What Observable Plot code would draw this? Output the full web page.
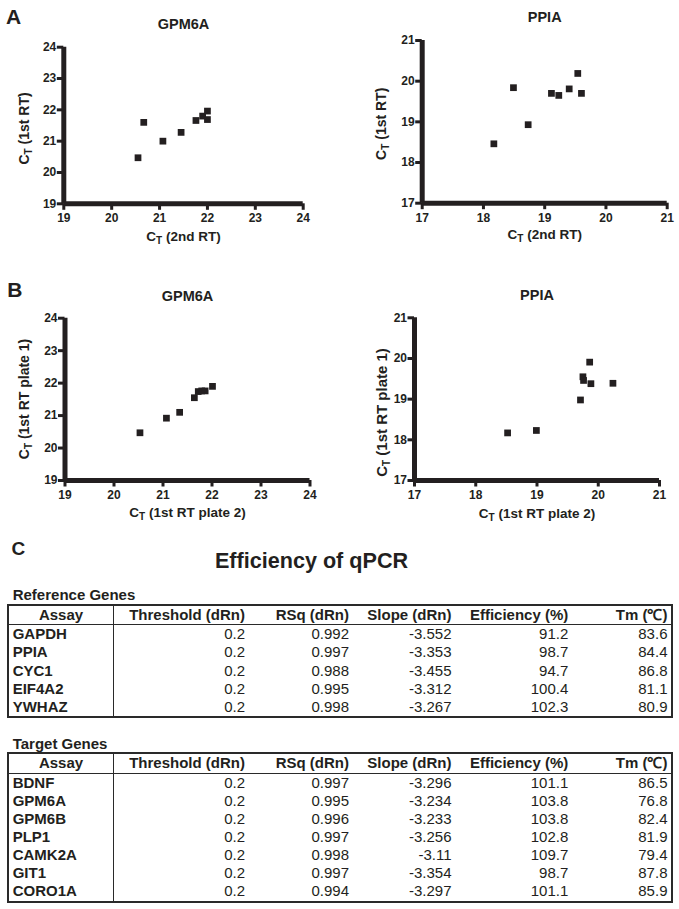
<!DOCTYPE html>
<html>
<head>
<meta charset="utf-8">
<script src="https://cdn.jsdelivr.net/npm/d3@7"></script>
<script src="https://cdn.jsdelivr.net/npm/@observablehq/plot@0.6"></script>
<style>
  html, body { margin: 0; padding: 0; background: #fff; }
  #page { position: relative; width: 679px; height: 909px; background: #fff; overflow: hidden;
          font-family: 'Liberation Sans', Arial, sans-serif; color: #231f20; }
  .lbl { position: absolute; white-space: nowrap; line-height: 1; }
  .tbl { position: absolute; left: 7px; width: 666px; border: 2px solid #2a2a2a; box-sizing: border-box;
         font-family: 'Liberation Sans', Arial, sans-serif; font-size: 15px; color: #231f20; }
  .tr { display: flex; height: 18.17px; line-height: 18.17px; }
  .tr.th { height: 18.25px; line-height: 18.25px; border-bottom: 1.5px solid #2a2a2a; font-weight: bold; }
  .td { flex: none; box-sizing: border-box; padding-right: 3.5px; text-align: right; white-space: nowrap; }
  .td.first { border-right: 1.5px solid #2a2a2a; text-align: left; padding-left: 3.7px; padding-right: 0; font-weight: bold; }
  .th .td.first { text-align: center; padding-left: 0; }
  svg { position: absolute; }
</style>
</head>
<body>
<div id="page"></div>
<script>
// ---------- DATA ----------
// Panel A: GPM6A, Ct 2nd RT (x) vs Ct 1st RT (y)
const gpm6aRT2 = [20.55, 20.67, 21.07, 21.45, 21.76, 21.90, 22.00, 22.00];
const gpm6aRT1 = [20.47, 21.60, 21.00, 21.28, 21.66, 21.80, 21.96, 21.69];
// Panel A: PPIA
const ppiaRT2 = [18.17, 18.49, 18.73, 19.11, 19.23, 19.40, 19.54, 19.60];
const ppiaRT1 = [18.46, 19.84, 18.93, 19.70, 19.65, 19.81, 20.19, 19.70];
// Panel B: GPM6A, 1st RT plate 2 (x) vs plate 1 (y)
const gpm6aPlate2 = [20.53, 21.07, 21.34, 21.64, 21.72, 21.79, 21.86, 22.01];
const gpm6aPlate1 = [20.47, 20.92, 21.10, 21.55, 21.74, 21.76, 21.76, 21.90];
// Panel B: PPIA
const ppiaPlate2 = [18.52, 18.99, 19.71, 19.75, 19.76, 19.86, 19.88, 20.24];
const ppiaPlate1 = [18.17, 18.23, 18.98, 19.55, 19.46, 19.91, 19.38, 19.39];

const gpm6aTicks = [19, 20, 21, 22, 23, 24];
const ppiaTicks = [17, 18, 19, 20, 21];

// Panel C tables
const tableColumns = ["Assay", "Threshold (dRn)", "RSq (dRn)", "Slope (dRn)", "Efficiency (%)", "Tm (℃)"];
const refAssay = ["GAPDH", "PPIA", "CYC1", "EIF4A2", "YWHAZ"];
const refThreshold = [0.2, 0.2, 0.2, 0.2, 0.2];
const refRSq = [0.992, 0.997, 0.988, 0.995, 0.998];
const refSlope = [-3.552, -3.353, -3.455, -3.312, -3.267];
const refEfficiency = [91.2, 98.7, 94.7, 100.4, 102.3];
const refTm = [83.6, 84.4, 86.8, 81.1, 80.9];

const tgtAssay = ["BDNF", "GPM6A", "GPM6B", "PLP1", "CAMK2A", "GIT1", "CORO1A"];
const tgtThreshold = [0.2, 0.2, 0.2, 0.2, 0.2, 0.2, 0.2];
const tgtRSq = [0.997, 0.995, 0.996, 0.997, 0.998, 0.997, 0.994];
const tgtSlope = [-3.296, -3.234, -3.233, -3.256, -3.11, -3.354, -3.297];
const tgtEfficiency = [101.1, 103.8, 103.8, 102.8, 109.7, 98.7, 101.1];
const tgtTm = [86.5, 76.8, 82.4, 81.9, 79.4, 87.8, 85.9];

// ---------- LAYOUT ----------
const ink = "#231f20";
const page = document.getElementById("page");
const FONT = "'Liberation Sans', Arial, sans-serif";

function subscriptT(svg, subSize) {
  const NS = "http://www.w3.org/2000/svg";
  svg.querySelectorAll("text").forEach(t => {
    const s = t.textContent;
    if (!s.startsWith("CT ")) return;
    t.textContent = "";
    t.appendChild(document.createTextNode("C"));
    const sub = document.createElementNS(NS, "tspan");
    sub.setAttribute("font-size", subSize);
    sub.setAttribute("dy", "3");
    sub.textContent = "T";
    t.appendChild(sub);
    const rest = document.createElementNS(NS, "tspan");
    rest.setAttribute("dy", "-3");
    rest.textContent = s.slice(2);
    t.appendChild(rest);
  });
}

function scatter(cfg) {
  const [L, T, W, H] = cfg.box;
  const [fx0, fy0, fx1, fy1] = cfg.frame;
  const data = cfg.xs.map((x, i) => ({x, y: cfg.ys[i]}));
  const svg = Plot.plot({
    width: W, height: H,
    marginLeft: fx0 - L, marginRight: L + W - fx1,
    marginTop: fy0 - T, marginBottom: T + H - fy1,
    x: {domain: cfg.xDomain},
    y: {domain: cfg.yDomain},
    style: {fontFamily: FONT, fontSize: "12px", fontWeight: "bold", color: ink, background: "none"},
    marks: [
      Plot.axisX({ticks: cfg.xTicks, tickSize: 6.5, tickPadding: 3.5, strokeWidth: 3, label: null, tickFormat: d => String(d)}),
      Plot.axisY({ticks: cfg.yTicks, tickSize: 6.5, tickPadding: 1, strokeWidth: 3, label: null, tickFormat: d => String(d)}),
      Plot.ruleX([cfg.xDomain[0]], {stroke: ink, strokeWidth: 5}),
      Plot.ruleY([cfg.yDomain[0]], {stroke: ink, strokeWidth: 5}),
      Plot.dot(data, {x: "x", y: "y", symbol: "square", r: 3.8, fill: ink}),
      Plot.text([cfg.title], {text: d => d, frameAnchor: "top", lineAnchor: "bottom", textAnchor: "middle",
                  dy: cfg.titleBase - fy0, fontSize: 14.5, fontWeight: "bold"}),
      Plot.text([cfg.xLabel], {text: d => d, frameAnchor: "bottom", lineAnchor: "bottom", textAnchor: "middle",
                  dy: cfg.xLabelBase - fy1, fontSize: cfg.xLabelSize, fontWeight: "bold"}),
      Plot.text([cfg.yLabel], {text: d => d, frameAnchor: "left", lineAnchor: "bottom", textAnchor: "middle", rotate: -90,
                  dx: cfg.yLabelBase - fx0, dy: cfg.yLabelCenter - (fy0 + fy1) / 2,
                  fontSize: cfg.yLabelSize, fontWeight: "bold"})
    ]
  });
  svg.style.left = L + "px";
  svg.style.top = T + "px";
  subscriptT(svg, 10);
  page.appendChild(svg);
}

scatter({box: [0, 0, 335, 255], frame: [63.3, 46.7, 302.7, 203.3],
  xDomain: [19, 24], yDomain: [19, 24], xTicks: gpm6aTicks, yTicks: gpm6aTicks,
  xs: gpm6aRT2, ys: gpm6aRT1, title: "GPM6A", titleBase: 28.3,
  xLabel: "CT (2nd RT)", xLabelBase: 240.5, xLabelSize: 13.5,
  yLabel: "CT (1st RT)", yLabelBase: 28.5, yLabelCenter: 128, yLabelSize: 14});

scatter({box: [340, 0, 339, 255], frame: [421.7, 40, 666.7, 202.7],
  xDomain: [17, 21], yDomain: [17, 21], xTicks: ppiaTicks, yTicks: ppiaTicks,
  xs: ppiaRT2, ys: ppiaRT1, title: "PPIA", titleBase: 21.7,
  xLabel: "CT (2nd RT)", xLabelBase: 238.5, xLabelSize: 13.5,
  yLabel: "CT (1st RT)", yLabelBase: 386, yLabelCenter: 123.3, yLabelSize: 14});

scatter({box: [0, 270, 335, 260], frame: [64.5, 317.7, 309.5, 480],
  xDomain: [19, 24], yDomain: [19, 24], xTicks: gpm6aTicks, yTicks: gpm6aTicks,
  xs: gpm6aPlate2, ys: gpm6aPlate1, title: "GPM6A", titleBase: 300,
  xLabel: "CT (1st RT plate 2)", xLabelBase: 516.5, xLabelSize: 13.5,
  yLabel: "CT (1st RT plate 1)", yLabelBase: 28.5, yLabelCenter: 398.5, yLabelSize: 14});

scatter({box: [340, 270, 339, 260], frame: [414, 317.3, 659, 480],
  xDomain: [17, 21], yDomain: [17, 21], xTicks: ppiaTicks, yTicks: ppiaTicks,
  xs: ppiaPlate2, ys: ppiaPlate1, title: "PPIA", titleBase: 299.3,
  xLabel: "CT (1st RT plate 2)", xLabelBase: 517, xLabelSize: 13.5,
  yLabel: "CT (1st RT plate 1)", yLabelBase: 386, yLabelCenter: 412, yLabelSize: 15});

// ---------- HTML text ----------
function label(text, {x, base, size, weight = "bold", anchor = "start"}) {
  const d = document.createElement("div");
  d.className = "lbl";
  d.textContent = text;
  d.style.fontSize = size + "px";
  d.style.fontWeight = weight;
  d.style.top = (base - 0.8465 * size) + "px";
  d.style.left = x + "px";
  if (anchor === "middle") d.style.transform = "translateX(-50%)";
  page.appendChild(d);
}
label("A", {x: 6, base: 23.3, size: 21});
label("B", {x: 7.3, base: 296.7, size: 21});
label("C", {x: 11.5, base: 555, size: 19});
label("Efficiency of qPCR", {x: 311.5, base: 568.3, size: 21.6, anchor: "middle"});
label("Reference Genes", {x: 12.7, base: 600, size: 15});
label("Target Genes", {x: 12.7, base: 748.3, size: 15});

// ---------- Tables ----------
const colWidths = [105, 134.5, 104, 102.5, 116.8, 99.2];
function buildTable(top, cols) {
  const tbl = document.createElement("div");
  tbl.className = "tbl";
  tbl.style.top = top + "px";
  const mkRow = (cells, header) => {
    const r = document.createElement("div");
    r.className = header ? "tr th" : "tr";
    cells.forEach((c, i) => {
      const td = document.createElement("div");
      td.className = i === 0 ? "td first" : "td";
      td.style.width = colWidths[i] + "px";
      td.textContent = c;
      r.appendChild(td);
    });
    tbl.appendChild(r);
  };
  mkRow(tableColumns, true);
  cols[0].forEach((_, i) => mkRow(cols.map(c => String(c[i])), false));
  page.appendChild(tbl);
}
buildTable(604, [refAssay, refThreshold, refRSq, refSlope, refEfficiency, refTm]);
buildTable(752.3, [tgtAssay, tgtThreshold, tgtRSq, tgtSlope, tgtEfficiency, tgtTm]);
</script>
</body>
</html>
